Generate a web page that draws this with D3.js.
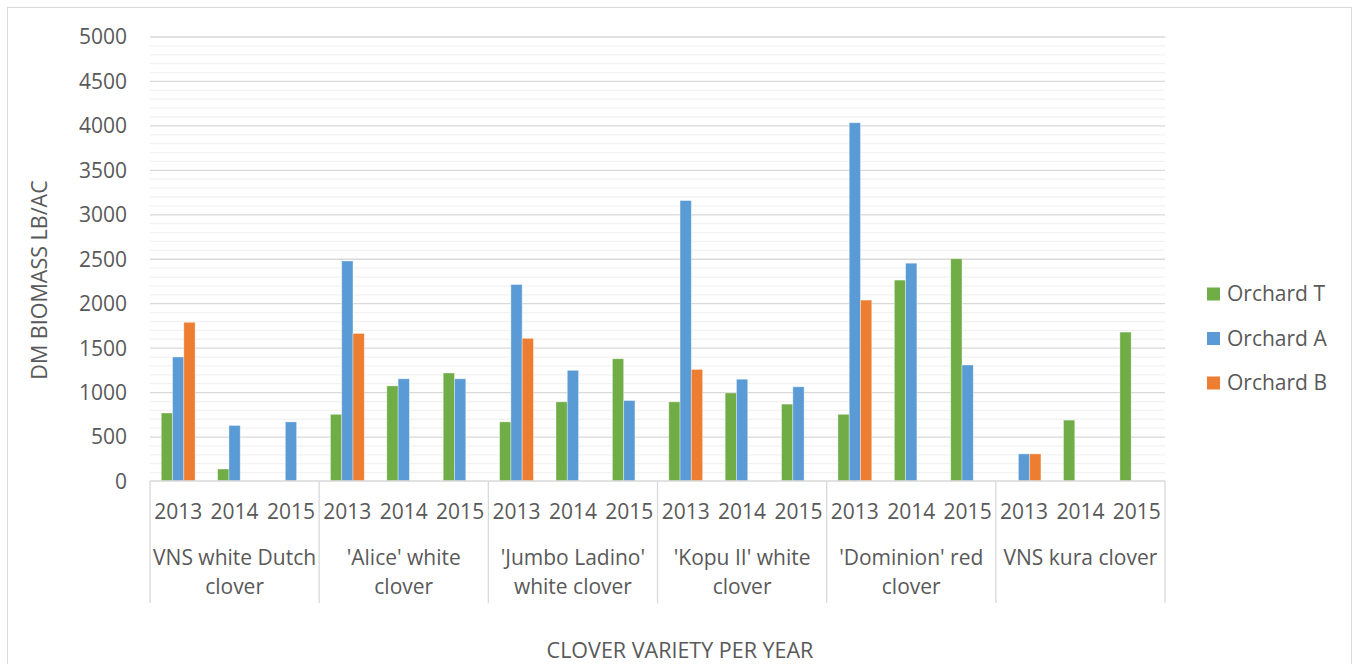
<!DOCTYPE html>
<html>
<head>
<meta charset="utf-8">
<script src="https://cdn.jsdelivr.net/npm/d3@7"></script>
<style>
  html, body { margin: 0; padding: 0; background: #fff; }
  svg { display: block; font-family: "Open Sans", sans-serif; }
</style>
</head>
<body>
<svg id="chart" width="1353" height="664"></svg>
<script>
// Clover varieties and years (two-level category axis)
const varieties = [
  ["VNS white Dutch", "clover"],
  ["'Alice' white", "clover"],
  ["'Jumbo Ladino'", "white clover"],
  ["'Kopu II' white", "clover"],
  ["'Dominion' red", "clover"],
  ["VNS kura clover"]
];
const years = ["2013", "2014", "2015"];

// Series: dry matter biomass (lb/ac), one value per variety-year, null = no bar
const seriesNames = ["Orchard T", "Orchard A", "Orchard B"];
const orchardT = [765, 135, null, 750, 1070, 1215, 665, 890, 1375, 890, 990, 865, 750, 2260, 2500, null, 685, 1675];
const orchardA = [1395, 625, 665, 2475, 1150, 1150, 2210, 1245, 905, 3155, 1145, 1060, 4030, 2450, 1305, 305, null, null];
const orchardB = [1785, null, null, 1660, null, null, 1605, null, null, 1255, null, null, 2035, null, null, 305, null, null];
const colors = ["#70AD47", "#5B9BD5", "#ED7D31"];

const yMajorTicks = [0, 500, 1000, 1500, 2000, 2500, 3000, 3500, 4000, 4500, 5000];

const svg = d3.select("#chart");
const plot = { left: 150, right: 1165, top: 36.5, bottom: 481 };
const textColor = "#595959";
const fontSize = 21;
const titleSize = 21.5;

// chart frame
svg.append("rect")
  .attr("x", 7.5).attr("y", 7.5)
  .attr("width", 1344).attr("height", 670)
  .attr("fill", "#fff").attr("stroke", "#d9d9d9").attr("stroke-width", 1);

// slots: one per variety-year
const slots = [];
varieties.forEach((v, vi) => years.forEach((yr) => slots.push({ key: vi + "-" + yr, vi, year: yr })));
const seriesData = [orchardT, orchardA, orchardB];

const x0 = d3.scaleBand().domain(slots.map(s => s.key)).range([plot.left, plot.right]).padding(0);
const x1 = d3.scaleBand().domain(seriesNames).range([0, x0.bandwidth()]).paddingInner(0).paddingOuter(1);
const y = d3.scaleLinear().domain([0, 5000]).range([plot.bottom, plot.top]);

// minor gridlines every 100
const minorTicks = d3.range(100, 5000, 100).filter(v => v % 500 !== 0);
svg.append("g")
  .attr("transform", `translate(${plot.left},0)`)
  .call(d3.axisLeft(y).tickValues(minorTicks).tickSize(-(plot.right - plot.left)).tickFormat(""))
  .call(g => g.select(".domain").remove())
  .call(g => g.selectAll("line").attr("stroke", "#f2f2f2").attr("stroke-width", 1.3));

// major gridlines
svg.append("g")
  .attr("transform", `translate(${plot.left},0)`)
  .call(d3.axisLeft(y).tickValues(yMajorTicks.filter(v => v > 0)).tickSize(-(plot.right - plot.left)).tickFormat(""))
  .call(g => g.select(".domain").remove())
  .call(g => g.selectAll("line").attr("stroke", "#d9d9d9").attr("stroke-width", 1.3));

// value axis labels
svg.append("g")
  .attr("transform", `translate(${plot.left},0)`)
  .call(d3.axisLeft(y).tickValues(yMajorTicks).tickSize(0).tickPadding(23).tickFormat(d3.format("d")))
  .call(g => g.select(".domain").remove())
  .call(g => g.selectAll("text")
    .attr("fill", textColor).attr("font-size", fontSize)
    .attr("font-family", "'Open Sans', sans-serif").attr("dy", "0.35em"));

// bars
const barGroups = svg.append("g");
seriesNames.forEach((name, si) => {
  barGroups.append("g")
    .selectAll("rect")
    .data(slots.map((s, i) => ({ slot: s, value: seriesData[si][i] })).filter(d => d.value !== null))
    .join("rect")
    .attr("x", d => x0(d.slot.key) + x1(name))
    .attr("y", d => y(d.value))
    .attr("width", x1.bandwidth())
    .attr("height", d => y(0) - y(d.value))
    .attr("fill", colors[si])
    .attr("stroke", "#ffffff").attr("stroke-opacity", 0.45).attr("stroke-width", 0.8);
});

// category axis baseline and group separators
const axisG = svg.append("g");
axisG.append("line")
  .attr("x1", plot.left).attr("x2", plot.right).attr("y1", plot.bottom).attr("y2", plot.bottom)
  .attr("stroke", "#d9d9d9").attr("stroke-width", 1.5);
const groupEdges = d3.range(0, varieties.length + 1).map(i => i < varieties.length ? x0(i + "-2013") : plot.right);
axisG.selectAll("line.sep").data(groupEdges).join("line")
  .attr("class", "sep")
  .attr("x1", d => d).attr("x2", d => d)
  .attr("y1", plot.bottom).attr("y2", 603)
  .attr("stroke", "#d9d9d9").attr("stroke-width", 1.3);

// year labels
axisG.selectAll("text.year").data(slots).join("text")
  .attr("class", "year")
  .attr("x", d => x0(d.key) + x0.bandwidth() / 2)
  .attr("y", 512).attr("dy", "0.35em")
  .attr("text-anchor", "middle")
  .attr("fill", textColor).attr("font-size", fontSize)
  .text(d => d.year);

// variety labels (wrapped)
varieties.forEach((lines, vi) => {
  const cx = (x0(vi + "-2013") + x0(vi + "-2015") + x0.bandwidth()) / 2;
  lines.forEach((ln, li) => {
    axisG.append("text")
      .attr("x", cx).attr("y", 558 + li * 29).attr("dy", "0.35em")
      .attr("text-anchor", "middle")
      .attr("fill", textColor).attr("font-size", fontSize)
      .text(ln);
  });
});

// axis titles
svg.append("text")
  .attr("transform", "translate(39,280) rotate(-90)")
  .attr("text-anchor", "middle").attr("dy", "0.35em")
  .attr("fill", textColor).attr("font-size", titleSize)
  .text("DM BIOMASS LB/AC");

svg.append("text")
  .attr("x", 680).attr("y", 650).attr("dy", "0.35em")
  .attr("text-anchor", "middle")
  .attr("fill", textColor).attr("font-size", titleSize)
  .text("CLOVER VARIETY PER YEAR");

// legend
const legendY = [294, 338.5, 383];
const legend = svg.append("g");
seriesNames.forEach((name, i) => {
  legend.append("rect")
    .attr("x", 1207).attr("y", legendY[i] - 6.5)
    .attr("width", 13).attr("height", 13)
    .attr("fill", colors[i]);
  legend.append("text")
    .attr("x", 1227).attr("y", legendY[i]).attr("dy", "0.35em")
    .attr("fill", textColor).attr("font-size", fontSize)
    .text(name);
});
</script>
</body>
</html>
